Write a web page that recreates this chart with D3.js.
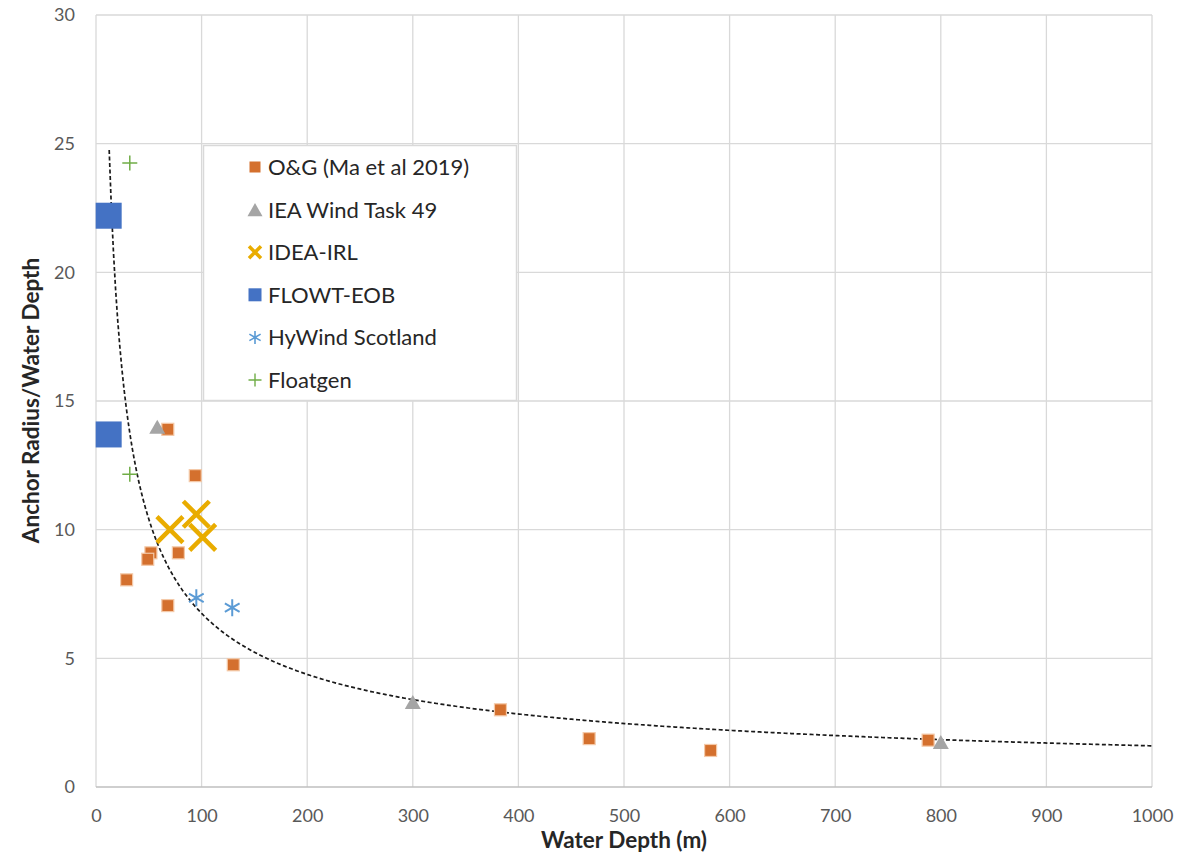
<!DOCTYPE html>
<html>
<head>
<meta charset="utf-8">
<script src="https://cdn.jsdelivr.net/npm/d3@7"></script>
<style>
  html, body { margin: 0; padding: 0; background: #fff; }
  svg { display: block; }
</style>
</head>
<body>
<svg id="chart" width="1196" height="854"></svg>
<script>
// Water depth (m) and anchor radius / water depth for each data source
const ogDepth = [68, 94, 78, 52, 49, 29, 68, 130, 383, 467, 582, 788];
const ogRatio = [13.9, 12.1, 9.1, 9.1, 8.85, 8.05, 7.05, 4.75, 3.0, 1.88, 1.42, 1.82];
const ieaDepth = [58, 300, 800];
const ieaRatio = [14.0, 3.3, 1.75];
const ideaDepth = [70, 95, 101];
const ideaRatio = [10.0, 10.6, 9.7];
const flowtDepth = [12, 12];
const flowtRatio = [22.2, 13.7];
const hywindDepth = [95, 129];
const hywindRatio = [7.35, 6.97];
const floatgenDepth = [32, 32];
const floatgenRatio = [24.25, 12.15];

// Power-law trend: ratio = trendCoef * depth ^ trendExp
const trendCoef = 120;
const trendExp = -0.625;
const trendStart = 12.5;
const trendEnd = 1000;

const xTicks = [0, 100, 200, 300, 400, 500, 600, 700, 800, 900, 1000];
const yTicks = [0, 5, 10, 15, 20, 25, 30];

const seriesNames = ["O&G (Ma et al 2019)", "IEA Wind Task 49", "IDEA-IRL", "FLOWT-EOB", "HyWind Scotland", "Floatgen"];

const svg = d3.select("#chart");
const font = "Lato, 'Open Sans', sans-serif";

const x = d3.scaleLinear().domain([0, 1000]).range([96, 1152]);
const y = d3.scaleLinear().domain([0, 30]).range([787, 15]);

// gridlines
const grid = svg.append("g");
grid.selectAll("line.h").data(yTicks.filter(d => d > 0)).join("line")
  .attr("x1", x(0)).attr("x2", x(1000))
  .attr("y1", d => y(d)).attr("y2", d => y(d))
  .attr("stroke", "#d9d9d9").attr("stroke-width", 1.3);
grid.selectAll("line.v").data(xTicks).join("line")
  .attr("x1", d => x(d)).attr("x2", d => x(d))
  .attr("y1", y(0)).attr("y2", y(30))
  .attr("stroke", "#d9d9d9").attr("stroke-width", 1.3);
// baseline
svg.append("line")
  .attr("x1", x(0)).attr("x2", x(1000)).attr("y1", y(0)).attr("y2", y(0))
  .attr("stroke", "#bfbfbf").attr("stroke-width", 1.5);

// axes
const xAxis = svg.append("g").attr("transform", `translate(0,${y(0)})`)
  .call(d3.axisBottom(x).tickValues(xTicks).tickFormat(d3.format("d")).tickSize(0).tickPadding(22));
const yAxis = svg.append("g").attr("transform", `translate(${x(0)},0)`)
  .call(d3.axisLeft(y).tickValues(yTicks).tickFormat(d3.format("d")).tickSize(0).tickPadding(21));
[xAxis, yAxis].forEach(a => {
  a.select(".domain").remove();
  a.selectAll("text").attr("fill", "#595959").style("font-family", font).style("font-size", "18px");
});

svg.append("text")
  .attr("x", 624).attr("y", 848)
  .attr("text-anchor", "middle")
  .style("font-family", font).style("font-size", "22.5px").style("font-weight", "bold")
  .attr("fill", "#262626")
  .text("Water Depth (m)");
svg.append("text")
  .attr("transform", `translate(39,400.5) rotate(-90)`)
  .attr("text-anchor", "middle")
  .style("font-family", font).style("font-size", "22.5px").style("font-weight", "bold")
  .attr("fill", "#262626")
  .text("Anchor Radius/Water Depth");

// trend line
const trendX = d3.range(trendStart, trendEnd + 1, 2);
const trendLine = d3.line()
  .x(d => x(d))
  .y(d => y(trendCoef * Math.pow(d, trendExp)));
svg.append("path")
  .datum(trendX)
  .attr("d", trendLine)
  .attr("fill", "none")
  .attr("stroke", "#1a1a1a")
  .attr("stroke-width", 1.7)
  .attr("stroke-dasharray", "4,2.5");

// marker painters
const colors = {
  og: "#d4702e", iea: "#a5a5a5", idea: "#e9ac00",
  flowt: "#4472c4", hywind: "#5b9bd5", floatgen: "#70ad47"
};

function square(g, cx, cy, s, color, edge) {
  g.append("rect").attr("x", cx - s / 2).attr("y", cy - s / 2)
    .attr("width", s).attr("height", s).attr("fill", color)
    .attr("stroke", edge || "none").attr("stroke-width", edge ? 1.2 : 0);
}
function triangle(g, cx, cy, s, color) {
  const h = s * 0.87;
  g.append("path")
    .attr("d", `M${cx},${cy - h / 2}L${cx + s / 2},${cy + h / 2}L${cx - s / 2},${cy + h / 2}Z`)
    .attr("fill", color);
}
function cross(g, cx, cy, s, color, w) {
  const r = s / 2;
  g.append("path")
    .attr("d", `M${cx - r},${cy - r}L${cx + r},${cy + r}M${cx + r},${cy - r}L${cx - r},${cy + r}`)
    .attr("stroke", color).attr("stroke-width", w).attr("fill", "none");
}
function asterisk(g, cx, cy, s, color, w) {
  const r = s / 2, d = r * 0.866, e = r * 0.5;
  g.append("path")
    .attr("d", `M${cx},${cy - r}L${cx},${cy + r}M${cx - d},${cy - e}L${cx + d},${cy + e}M${cx + d},${cy - e}L${cx - d},${cy + e}`)
    .attr("stroke", color).attr("stroke-width", w).attr("fill", "none");
}
function plus(g, cx, cy, s, color, w) {
  const r = s / 2;
  g.append("path")
    .attr("d", `M${cx - r},${cy}L${cx + r},${cy}M${cx},${cy - r}L${cx},${cy + r}`)
    .attr("stroke", color).attr("stroke-width", w).attr("fill", "none");
}

const marks = svg.append("g");
ogDepth.forEach((d, i) => square(marks, x(d), y(ogRatio[i]), 12, colors.og, "#f4c9a8"));
ieaDepth.forEach((d, i) => triangle(marks, x(d), y(ieaRatio[i]), 16, colors.iea));
ideaDepth.forEach((d, i) => cross(marks, x(d), y(ideaRatio[i]), 26, colors.idea, 4.5));
flowtDepth.forEach((d, i) => square(marks, x(d), y(flowtRatio[i]), 26, colors.flowt));
hywindDepth.forEach((d, i) => asterisk(marks, x(d), y(hywindRatio[i]), 17, colors.hywind, 2));
floatgenDepth.forEach((d, i) => plus(marks, x(d), y(floatgenRatio[i]), 15, colors.floatgen, 1.5));

// legend
const legend = svg.append("g");
legend.append("rect")
  .attr("x", 203.5).attr("y", 145.5).attr("width", 313).attr("height", 255)
  .attr("fill", "#fff").attr("stroke", "#d9d9d9").attr("stroke-width", 1.5);
const lx = 255, ly0 = 167, lstep = 42.6;
const painters = [
  (g, cx, cy) => square(g, cx, cy, 11, colors.og),
  (g, cx, cy) => triangle(g, cx, cy, 15, colors.iea),
  (g, cx, cy) => cross(g, cx, cy, 12, colors.idea, 3.5),
  (g, cx, cy) => square(g, cx, cy, 13, colors.flowt),
  (g, cx, cy) => asterisk(g, cx, cy, 13, colors.hywind, 1.6),
  (g, cx, cy) => plus(g, cx, cy, 13, colors.floatgen, 1.4)
];
seriesNames.forEach((name, i) => {
  const cy = ly0 + i * lstep;
  painters[i](legend, lx, cy);
  legend.append("text")
    .attr("x", 268).attr("y", cy + 8)
    .style("font-family", font).style("font-size", "22px")
    .attr("fill", "#262626")
    .text(name);
});
</script>
</body>
</html>
